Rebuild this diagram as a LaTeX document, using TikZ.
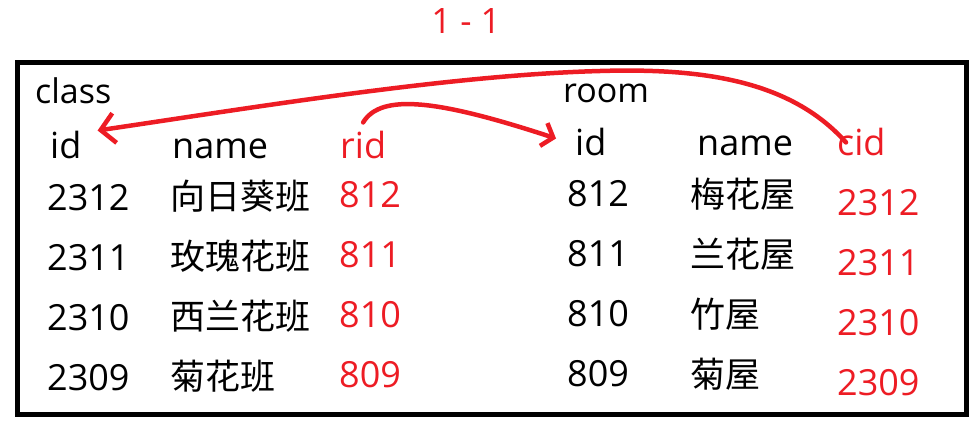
\documentclass[tikz,border=0pt]{standalone}
\usepackage{fontspec}
\setmainfont{Open Sans}
\newfontfamily\cjk{Noto Sans CJK SC}
\usetikzlibrary{arrows.meta}
\definecolor{linkred}{RGB}{237,28,36}
\begin{document}
\begin{tikzpicture}[x=1pt, y=-1pt,
    cell/.style={anchor=base west, inner sep=0pt, font=\fontsize{36}{40}\selectfont},
    hanzi/.style={cell, font=\fontsize{35}{40}\selectfont\cjk},
    title/.style={anchor=base west, inner sep=0pt, font=\fontsize{34}{40}\selectfont},
    key/.style={text=linkred},
    link/.style={linkred, line width=4.5pt, line cap=round, line join=round}]
    \useasboundingbox (0,0) rectangle (974,426);

    % Heading
    \node[anchor=base, inner sep=0pt, text=linkred, font=\fontsize{35}{40}\selectfont] (head) at (466,33) {1 - 1};

    % Frame
    \draw[line width=5pt] (17,62) rectangle (966,414);

    % Table class
    \node[title] (c-title) at (35,103) {class};
    \node[cell] (c-id) at (50,158) {id};
    \node[cell] (c-name) at (172,158) {name};
    \node[cell, key] (c-rid) at (340,158) {rid};
    \foreach \cid/\cname/\rid [count=\i] in {2312/向日葵班/812, 2311/玫瑰花班/811, 2310/西兰花班/810, 2309/菊花班/809} {
            \node[cell] (c-id-\i) at (47,150+60*\i) {\cid};
            \node[hanzi] (c-name-\i) at (170,149+60*\i) {\cname};
            \node[cell, key] (c-rid-\i) at (339,147+60*\i) {\rid};
        }

    % Table room
    \node[title] (r-title) at (563,102) {room};
    \node[cell] (r-id) at (575,155) {id};
    \node[cell] (r-name) at (697,155) {name};
    \node[cell, key] (r-cid) at (837,155) {cid};
    \foreach \rid/\rname/\cid [count=\i] in {812/梅花屋/2312, 811/兰花屋/2311, 810/竹屋/2310, 809/菊屋/2309} {
            \node[cell] (r-id-\i) at (567,146+60*\i) {\rid};
            \node[hanzi] (r-name-\i) at (690,147+60*\i) {\rname};
            \node[cell, key] (r-cid-\i) at (837,155+60*\i) {\cid};
        }

    % Links
    \coordinate (arc-top) at (600,71);
    \draw[link, -{Straight Barb[length=14pt, width=30pt]}] ([xshift=9pt, yshift=-15pt]r-cid.north west)
        .. controls +(-56,-63) and +(100,-3) .. (arc-top)
        .. controls +(-150,4) and +(156,-23) .. ([xshift=16pt, yshift=14pt]c-id.east);
    \draw[link, -{Straight Barb[length=10pt, width=24pt]}] ([yshift=8pt]c-rid.north)
        .. controls +(18,-30) and +(-116,-38) .. ([xshift=-19pt, yshift=3pt]r-id.west);
\end{tikzpicture}
\end{document}
